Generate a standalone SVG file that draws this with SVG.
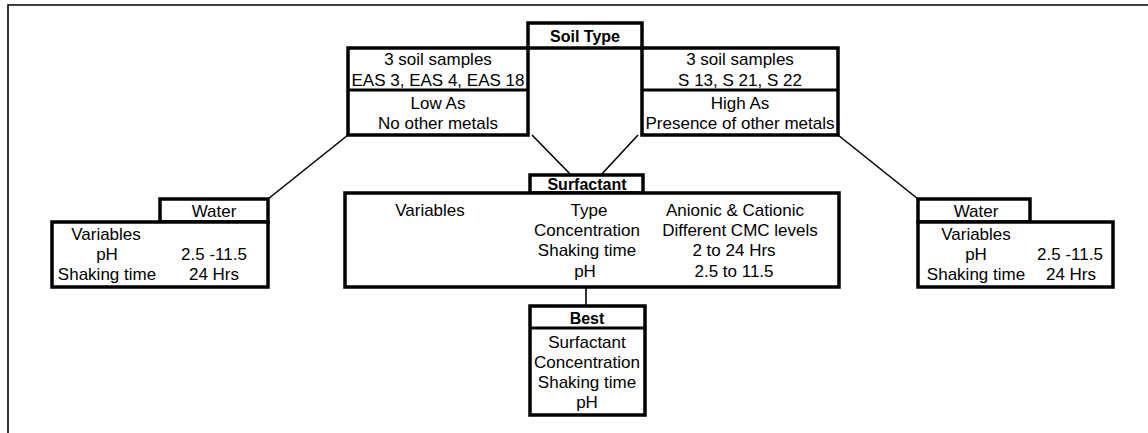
<svg xmlns="http://www.w3.org/2000/svg" width="1148" height="433" viewBox="0 0 1148 433">
<style>
text{font-family:"Liberation Sans",Arial,sans-serif;font-size:17px;fill:#000;text-anchor:middle}
.b{font-weight:bold;font-size:16px}
.box{fill:#fff;stroke:#000;stroke-width:3.5}
.div{stroke:#000;stroke-width:3}
.ln{stroke:#000;stroke-width:1.6;fill:none}
</style>
<rect width="1148" height="433" fill="#fff"/>
<g id="frame">
<path class="ln" d="M8,433 V5 H1148"/>
</g>
<g id="connectors">
<line class="ln" x1="348" y1="135" x2="268" y2="199"/>
<line class="ln" x1="838" y1="135" x2="918" y2="199"/>
<line class="ln" x1="532" y1="135" x2="572" y2="176"/>
<line class="ln" x1="638" y1="135" x2="600" y2="176"/>
<line class="ln" x1="586" y1="287" x2="586" y2="306"/>
</g>
<g id="soil-type">
<rect class="box" x="528" y="23" width="114" height="25"/>
<text class="b" x="585" y="42">Soil Type</text>
</g>
<g id="low-as">
<rect class="box" x="348" y="48" width="180" height="87"/>
<line class="div" x1="348" y1="90" x2="528" y2="90"/>
<text x="438" y="65">3 soil samples</text>
<text x="438" y="86">EAS 3, EAS 4, EAS 18</text>
<text x="438" y="109">Low As</text>
<text x="438" y="129">No other metals</text>
</g>
<g id="high-as">
<rect class="box" x="642" y="48" width="196" height="87"/>
<line class="div" x1="642" y1="90" x2="838" y2="90"/>
<text x="740" y="65">3 soil samples</text>
<text x="740" y="86">S 13, S 21, S 22</text>
<text x="740" y="109">High As</text>
<text x="740" y="129">Presence of other metals</text>
</g>
<g id="water-left">
<rect class="box" x="160" y="199" width="108" height="23"/>
<text x="214" y="217">Water</text>
<rect class="box" x="52" y="222" width="216" height="65"/>
<text x="106" y="240">Variables</text>
<text x="107" y="260">pH</text>
<text x="214" y="260">2.5 -11.5</text>
<text x="107" y="280">Shaking time</text>
<text x="214" y="280">24 Hrs</text>
</g>
<g id="surfactant">
<rect class="box" x="530" y="175" width="113" height="18"/>
<text class="b" x="587" y="190">Surfactant</text>
<rect class="box" x="345" y="193" width="494" height="94"/>
<text x="430" y="216">Variables</text>
<text x="589" y="216">Type</text>
<text x="735" y="216">Anionic &amp; Cationic</text>
<text x="587" y="236">Concentration</text>
<text x="740" y="236">Different CMC levels</text>
<text x="587" y="256">Shaking time</text>
<text x="734" y="256">2 to 24 Hrs</text>
<text x="585" y="277">pH</text>
<text x="734" y="277">2.5 to 11.5</text>
</g>
<g id="water-right">
<rect class="box" x="918" y="199" width="112" height="23"/>
<text x="976" y="217">Water</text>
<rect class="box" x="918" y="222" width="195" height="65"/>
<text x="976" y="240">Variables</text>
<text x="976" y="260">pH</text>
<text x="1070" y="260">2.5 -11.5</text>
<text x="976" y="280">Shaking time</text>
<text x="1071" y="280">24 Hrs</text>
</g>
<g id="best">
<rect class="box" x="530" y="306" width="115" height="109"/>
<line class="div" x1="530" y1="328" x2="645" y2="328"/>
<text class="b" x="587" y="324">Best</text>
<text x="587" y="348">Surfactant</text>
<text x="587" y="368">Concentration</text>
<text x="587" y="388">Shaking time</text>
<text x="587" y="408">pH</text>
</g>
</svg>
